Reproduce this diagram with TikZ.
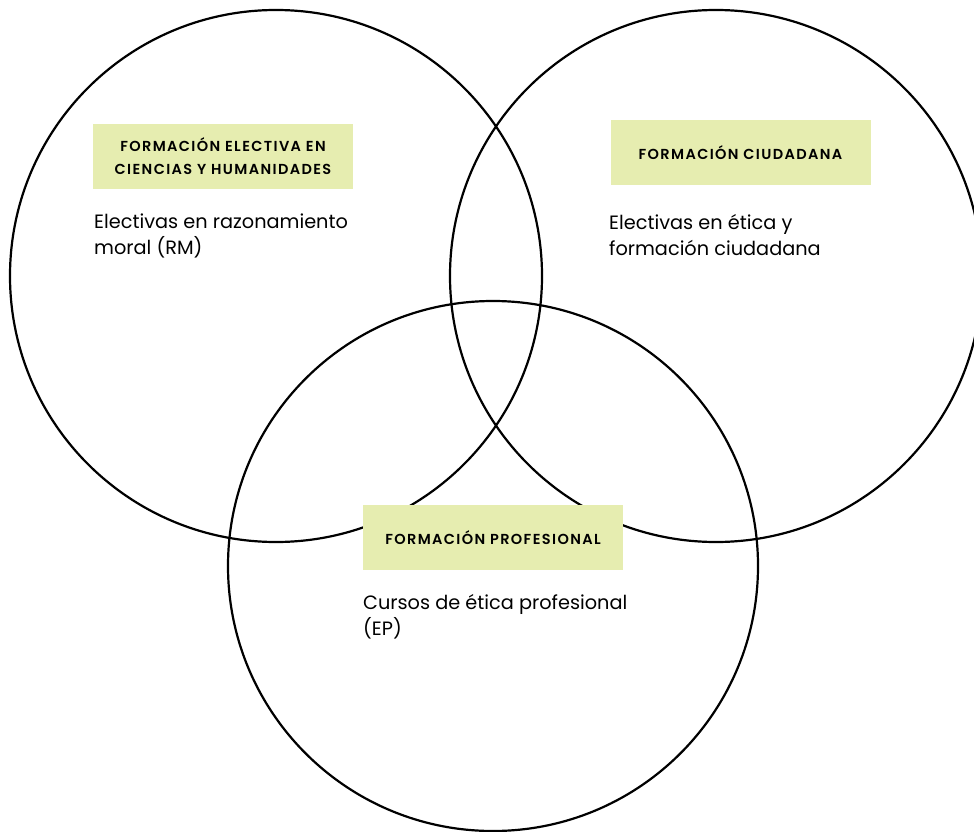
\documentclass[tikz,border=0pt]{standalone}
\usepackage{fontspec}
\setmainfont{Poppins}
\newfontfamily\headfont[LetterSpace=9.5]{Poppins SemiBold}
\definecolor{boxfill}{RGB}{230,237,176}
\begin{document}
\begin{tikzpicture}[x=1pt,y=-1pt,
  ring/.style={draw=black,line width=2.2pt},
  headbox/.style={fill=boxfill,minimum width=260pt,minimum height=65pt,inner sep=0pt,align=center,font=\headfont\fontsize{14.5}{23}\selectfont},
  bodytext/.style={anchor=north west,inner sep=0pt,align=left,font=\fontsize{19.3}{26}\selectfont}]
\useasboundingbox (0,0) rectangle (974,832);
\draw[ring] (276,276) circle (266);
\draw[ring] (716,276) circle (266);
\draw[ring] (493,566) circle (265);
\node[headbox] (hl) at (223,156.5) {FORMACIÓN ELECTIVA EN\\CIENCIAS Y HUMANIDADES};
\node[headbox] (hr) at (740.5,152.5) {FORMACIÓN CIUDADANA};
\node[headbox] (hb) at (493,537.5) {FORMACIÓN PROFESIONAL};
\node[bodytext] (bl) at (94,214) {Electivas en razonamiento\\moral (RM)};
\node[bodytext] (br) at (609,214) {Electivas en ética y\\formación ciudadana};
\node[bodytext] (bb) at (363,594) {Cursos de ética profesional\\(EP)};
\end{tikzpicture}
\end{document}
